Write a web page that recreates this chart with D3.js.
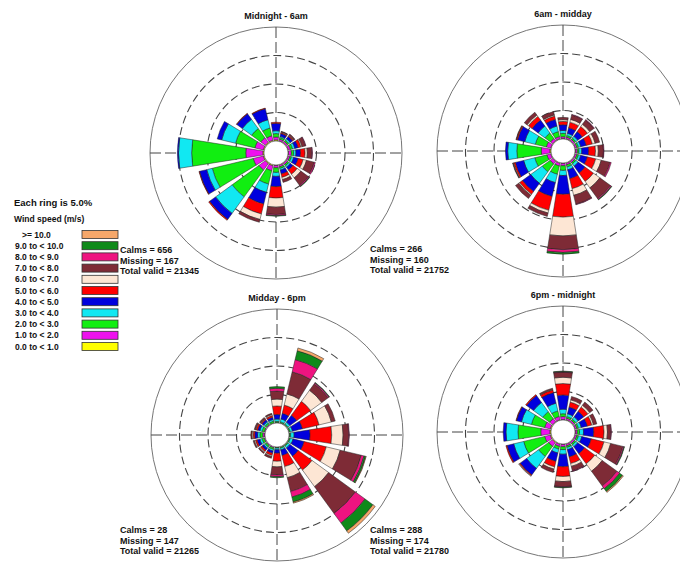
<!DOCTYPE html>
<html>
<head>
<meta charset="utf-8">
<script src="https://cdn.jsdelivr.net/npm/d3@7"></script>
<style>
  body { margin: 0; background: #fff; }
  text { font-family: "Liberation Sans", Arial, sans-serif; font-weight: bold; fill: #111; }
</style>
</head>
<body>
<svg id="chart" width="680" height="564"></svg>
<script>
// compass directions (deg), 16 sectors
const directions = d3.range(16).map(i => i * 22.5);

// speed classes, lowest first
const speedBins = ["0.0 to < 1.0", "1.0 to < 2.0", "2.0 to < 3.0", "3.0 to < 4.0", "4.0 to < 5.0",
  "5.0 to < 6.0", "6.0 to < 7.0", "7.0 to < 8.0", "8.0 to < 9.0", "9.0 to < 10.0", ">= 10.0"];
const binColors = ["#ffff00", "#ee11ee", "#11ee11", "#11e8f2", "#0000dd", "#ff0000",
  "#fde6d4", "#7e2b36", "#ee1480", "#0f8a1a", "#f5a76a"];

const periods = ["Midnight - 6am", "6am - midday", "Midday - 6pm", "6pm - midnight"];
const calms = [656, 266, 28, 288];
const missing = [167, 160, 147, 174];
const totalValid = [21345, 21752, 21265, 21780];
const ringPercents = [5, 10, 15];

// percent of hours per direction (rows N..NNW), per speed class (columns as speedBins)
const midnightTo6am = [
  [0.2, 0.5, 0.6, 0.5, 1.3, 0.2, 0, 0, 0, 0, 0],
  [0.1, 0.3, 0.3, 0.2, 0.5, 0.2, 0.1, 0.1, 0, 0, 0],
  [0.1, 0.3, 0.3, 0.3, 0.5, 0.2, 0.1, 0.2, 0, 0, 0],
  [0.1, 0.4, 0.4, 0.4, 0.6, 0.5, 0.2, 0.6, 0.1, 0, 0],
  [0.1, 0.5, 0.4, 0.4, 0.8, 0.8, 0.4, 0.8, 0.1, 0, 0],
  [0.1, 0.3, 0.3, 0.4, 0.8, 0.9, 0.6, 1.4, 0.2, 0, 0],
  [0.1, 0.3, 0.3, 0.3, 0.6, 0.9, 0.8, 1.6, 0.2, 0.1, 0],
  [0.1, 0.3, 0.3, 0.3, 0.7, 0.6, 0.4, 0.5, 0, 0, 0],
  [0.1, 0.4, 0.8, 0.7, 1.8, 2.0, 1.6, 1.3, 0.2, 0.1, 0],
  [0.2, 0.9, 2.4, 1.5, 2.1, 1.8, 1.0, 0.5, 0, 0, 0],
  [0.2, 1.4, 5.8, 3.6, 1.3, 0.2, 0, 0, 0, 0, 0],
  [0.2, 1.8, 7.4, 1.0, 1.3, 0.1, 0, 0, 0, 0, 0],
  [0.2, 3.0, 9.5, 2.3, 0.2, 0, 0, 0, 0, 0, 0],
  [0.2, 1.5, 3.5, 2.5, 0.8, 0, 0, 0, 0, 0, 0],
  [0.2, 1.0, 2.0, 2.0, 1.2, 0.1, 0, 0, 0, 0, 0],
  [0.2, 0.8, 1.4, 1.5, 2.0, 0.1, 0, 0, 0, 0, 0]
];
const sixamToMidday = [
  [0.1, 0.3, 0.6, 0.5, 1.0, 0.6, 0.3, 0.4, 0, 0, 0],
  [0.1, 0.3, 0.3, 0.4, 1.0, 1.0, 0.5, 0.8, 0.1, 0, 0],
  [0.1, 0.3, 0.3, 0.4, 1.0, 1.1, 0.5, 0.9, 0.1, 0, 0],
  [0.1, 0.3, 0.3, 0.4, 1.0, 1.1, 0.5, 0.8, 0, 0, 0],
  [0.1, 0.3, 0.3, 0.5, 1.2, 1.2, 0.5, 0.9, 0.1, 0, 0],
  [0.1, 0.3, 0.3, 0.4, 1.2, 1.5, 1.0, 1.6, 0.2, 0, 0],
  [0.1, 0.3, 0.3, 0.5, 1.5, 1.8, 1.4, 2.3, 0.2, 0.1, 0],
  [0.1, 0.3, 0.4, 0.5, 1.6, 1.8, 1.2, 1.6, 0.1, 0, 0],
  [0.1, 0.4, 0.8, 0.9, 3.3, 4.0, 3.3, 2.4, 0.5, 0.3, 0],
  [0.1, 0.5, 1.5, 1.5, 2.5, 2.5, 0.5, 0.6, 0, 0, 0],
  [0.1, 0.6, 1.7, 2.5, 1.8, 0.6, 0.2, 0.7, 0, 0, 0],
  [0.1, 0.7, 2.2, 2.0, 1.5, 0.3, 0.1, 0.1, 0, 0, 0],
  [0.2, 1.5, 4.3, 1.6, 0.4, 0, 0, 0, 0, 0, 0],
  [0.1, 0.8, 2.0, 1.9, 1.3, 0.2, 0, 0.1, 0, 0, 0],
  [0.1, 0.5, 1.2, 1.5, 1.3, 0.8, 0.3, 0.6, 0, 0, 0],
  [0.1, 0.4, 0.9, 1.0, 1.2, 0.6, 0.2, 0.6, 0, 0, 0]
];
const middayTo6pm = [
  [0, 0.1, 0.2, 0.4, 0.8, 1.5, 1.2, 1.4, 0.5, 0.3, 0],
  [0, 0.1, 0.2, 0.5, 1.0, 1.5, 2.0, 4.0, 2.2, 1.6, 0.5],
  [0, 0.1, 0.2, 0.4, 1.5, 3.0, 2.4, 1.4, 0.2, 0.1, 0],
  [0, 0.1, 0.2, 0.4, 1.8, 3.0, 2.2, 0.7, 0, 0, 0],
  [0, 0.1, 0.2, 0.6, 2.8, 3.8, 2.0, 1.0, 0.1, 0, 0],
  [0, 0.1, 0.2, 0.5, 2.0, 4.0, 2.5, 3.8, 0.5, 0.3, 0.1],
  [0, 0.1, 0.2, 0.4, 1.8, 3.0, 3.6, 5.8, 2.1, 1.7, 0.5],
  [0, 0.1, 0.2, 0.3, 1.0, 2.0, 2.0, 2.5, 1.0, 0.9, 0.2],
  [0, 0.1, 0.1, 0.3, 0.6, 1.4, 1.0, 1.4, 0.3, 0.2, 0],
  [0, 0.2, 0.3, 0.3, 0.4, 0.4, 0.2, 0.3, 0, 0, 0],
  [0, 0.2, 0.3, 0.3, 0.4, 0.3, 0.2, 0.2, 0, 0, 0],
  [0, 0.2, 0.4, 0.4, 0.5, 0.3, 0.2, 0.2, 0, 0, 0],
  [0.1, 0.3, 0.5, 0.4, 0.5, 0.3, 0.2, 0.2, 0, 0, 0],
  [0, 0.2, 0.4, 0.4, 0.4, 0.3, 0.1, 0.2, 0, 0, 0],
  [0, 0.2, 0.3, 0.3, 0.4, 0.2, 0.1, 0.2, 0, 0, 0],
  [0, 0.1, 0.3, 0.3, 0.4, 0.3, 0.2, 0.2, 0, 0, 0]
];
const sixpmToMidnight = [
  [0.1, 0.5, 0.5, 0.8, 2.5, 2.0, 1.1, 0.9, 0.1, 0.1, 0],
  [0.1, 0.3, 0.3, 0.5, 1.2, 0.9, 0.4, 0.6, 0, 0, 0],
  [0.1, 0.3, 0.3, 0.5, 1.2, 0.9, 0.4, 0.7, 0, 0, 0],
  [0.1, 0.3, 0.3, 0.5, 1.1, 0.8, 0.3, 0.6, 0, 0, 0],
  [0.1, 0.3, 0.4, 0.7, 1.8, 1.8, 0.6, 0.6, 0.1, 0, 0],
  [0.1, 0.3, 0.3, 0.6, 1.7, 2.3, 1.2, 2.2, 0.2, 0.1, 0],
  [0.1, 0.3, 0.3, 0.4, 1.5, 2.2, 1.6, 3.2, 0.6, 0.6, 0.2],
  [0.1, 0.3, 0.3, 0.4, 1.3, 1.2, 0.5, 0.8, 0.1, 0, 0],
  [0.1, 0.4, 0.5, 0.8, 2.2, 1.7, 0.9, 0.9, 0.1, 0.1, 0],
  [0.1, 0.4, 0.5, 0.7, 1.5, 1.0, 0.4, 0.6, 0, 0, 0],
  [0.2, 0.8, 2.2, 2.6, 1.4, 0.2, 0.1, 0, 0, 0, 0],
  [0.2, 1.0, 3.8, 1.8, 1.2, 0.2, 0, 0, 0, 0, 0],
  [0.2, 1.6, 4.0, 2.1, 0.5, 0, 0, 0, 0, 0, 0],
  [0.2, 1.0, 2.4, 1.8, 0.9, 0.1, 0, 0, 0, 0, 0],
  [0.1, 0.7, 1.5, 2.0, 1.5, 0.2, 0, 0, 0, 0, 0],
  [0.1, 0.6, 1.0, 1.4, 1.9, 0.5, 0.1, 0.2, 0, 0, 0]
];
const roseData = [midnightTo6am, sixamToMidday, middayTo6pm, sixpmToMidnight];

const svg = d3.select("#chart");

// layout of the four roses
const centers = [[276, 153], [563, 151], [277, 435], [563, 432]];
const noteOffset = [[-156, 100], [-193, 101], [-157, 98], [-193, 101]];
const calmR = 12, outerR = 126;
const r = d3.scaleLinear().domain([0, 20]).range([calmR, outerR]);
const halfWidth = 9 * Math.PI / 180;
const arc = d3.arc();

roseData.forEach((rows, k) => {
  const [cx, cy] = centers[k];
  const g = svg.append("g").attr("transform", `translate(${cx},${cy})`);

  // grid: outer solid ring, dashed rings, dashed crosshair
  g.append("circle").attr("r", outerR)
    .attr("fill", "none").attr("stroke", "#666").attr("stroke-width", 0.9);
  g.selectAll(".ring").data(ringPercents).join("circle")
    .attr("class", "ring")
    .attr("r", d => r(d))
    .attr("fill", "none").attr("stroke", "#444").attr("stroke-width", 1.1)
    .attr("stroke-dasharray", "8,4");
  g.append("line").attr("x1", -outerR).attr("x2", outerR)
    .attr("stroke", "#444").attr("stroke-width", 1).attr("stroke-dasharray", "11,4");
  g.append("line").attr("y1", -outerR).attr("y2", outerR)
    .attr("stroke", "#444").attr("stroke-width", 1).attr("stroke-dasharray", "11,4");

  // stacked sectors
  rows.forEach((vals, i) => {
    const a = directions[i] * Math.PI / 180;
    const tops = d3.cumsum(vals);
    const segs = vals.map((v, j) => ({ v, j, y0: tops[j] - v, y1: tops[j] }))
      .filter(s => s.v > 0);
    g.selectAll(null).data(segs).join("path")
      .attr("d", s => arc({ innerRadius: r(s.y0), outerRadius: r(s.y1),
        startAngle: a - halfWidth, endAngle: a + halfWidth }))
      .attr("fill", s => binColors[s.j])
      .attr("stroke", "#222").attr("stroke-width", 0.5);
  });

  g.append("circle").attr("r", calmR)
    .attr("fill", "#fff").attr("stroke", "#555").attr("stroke-width", 0.6);

  // title
  svg.append("text").attr("x", cx).attr("y", cy - outerR - 8)
    .attr("text-anchor", "middle").attr("font-size", 9).text(periods[k]);

  // calm / missing / valid notes
  const nx = cx + noteOffset[k][0], ny = cy + noteOffset[k][1];
  [`Calms = ${calms[k]}`, `Missing = ${missing[k]}`, `Total valid = ${totalValid[k]}`]
    .forEach((t, j) => {
      svg.append("text").attr("x", nx).attr("y", ny + j * 10.5)
        .attr("font-size", 9).text(t);
    });
});

// legend
const legend = svg.append("g");
legend.append("text").attr("x", 14).attr("y", 206).attr("font-size", 9.5).text("Each ring is 5.0%");
legend.append("text").attr("x", 14).attr("y", 222).attr("font-size", 8.5).text("Wind speed (m/s)");
const legendY = d3.scaleLinear().domain([speedBins.length - 1, 0]).range([234.5, 346.5]);
speedBins.forEach((label, j) => {
  const y = legendY(j);
  legend.append("rect").attr("x", 82).attr("y", y - 4).attr("width", 36).attr("height", 8)
    .attr("fill", binColors[j]).attr("stroke", "#333").attr("stroke-width", 0.8);
  legend.append("text").attr("x", label.startsWith(">") ? 22 : 15).attr("y", y + 3)
    .attr("font-size", 8.5).text(label);
});
</script>
</body>
</html>
